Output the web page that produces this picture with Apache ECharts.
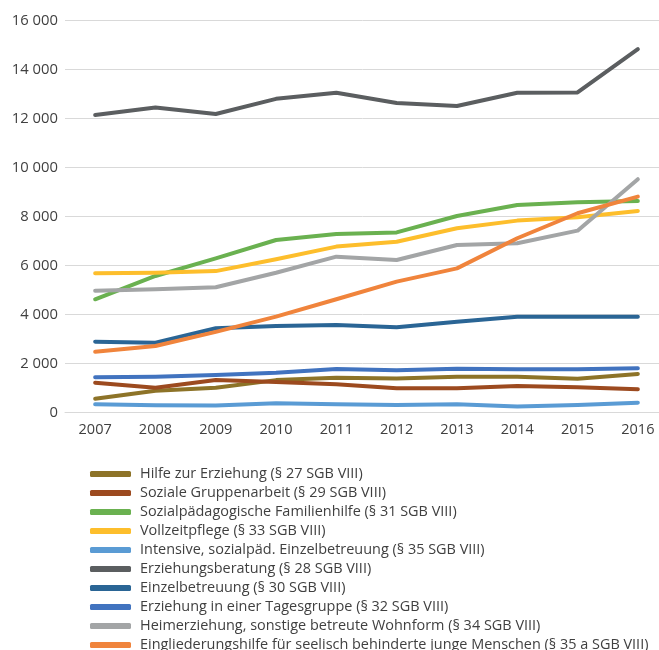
<!DOCTYPE html>
<html>
<head>
<meta charset="utf-8">
<script src="https://cdn.jsdelivr.net/npm/echarts@6/dist/echarts.min.js"></script>
<style>html,body{margin:0;padding:0;background:#fff;}#c{width:659px;height:650px;}</style>
</head>
<body>
<div id="c"></div>
<script>
const years = ['2007','2008','2009','2010','2011','2012','2013','2014','2015','2016'];
const names = [
  'Hilfe zur Erziehung (§ 27 SGB VIII)',
  'Soziale Gruppenarbeit (§ 29 SGB VIII)',
  'Sozialpädagogische Familienhilfe (§ 31 SGB VIII)',
  'Vollzeitpflege (§ 33 SGB VIII)',
  'Intensive, sozialpäd. Einzelbetreuung (§ 35 SGB VIII)',
  'Erziehungsberatung (§ 28 SGB VIII)',
  'Einzelbetreuung (§ 30 SGB VIII)',
  'Erziehung in einer Tagesgruppe (§ 32 SGB VIII)',
  'Heimerziehung, sonstige betreute Wohnform (§ 34 SGB VIII)',
  'Eingliederungshilfe für seelisch behinderte junge Menschen (§ 35 a SGB VIII)'
];
const hilfe27 =        [570, 900, 1020, 1330, 1430, 1400, 1470, 1470, 1390, 1580];
const gruppe29 =       [1225, 1020, 1335, 1250, 1160, 1000, 1000, 1090, 1040, 955];
const familie31 =      [4630, 5580, 6300, 7050, 7290, 7360, 8030, 8480, 8590, 8640];
const vollzeit33 =     [5690, 5710, 5780, 6260, 6780, 6980, 7530, 7840, 7980, 8230];
const intensiv35 =     [340, 300, 290, 385, 345, 315, 345, 250, 315, 410];
const beratung28 =     [12150, 12460, 12190, 12810, 13060, 12640, 12520, 13060, 13070, 14840];
const einzel30 =       [2900, 2860, 3445, 3540, 3580, 3490, 3710, 3920, 3920, 3920];
const tages32 =        [1445, 1470, 1540, 1630, 1785, 1730, 1795, 1770, 1770, 1810];
const heim34 =         [4980, 5040, 5120, 5710, 6370, 6230, 6845, 6915, 7430, 9530];
const eingl35a =       [2490, 2720, 3300, 3920, 4630, 5350, 5890, 7120, 8140, 8820];
const values = [hilfe27, gruppe29, familie31, vollzeit33, intensiv35, beratung28, einzel30, tages32, heim34, eingl35a];
const colors = ['#8d7328','#9c4a1f','#6ab150','#fdbe2c','#5a9bd4','#5b5e60','#2a6595','#4173bf','#a3a5a6','#f0843c'];

const font = '"Open Sans", "Noto Sans", sans-serif';
const chart = echarts.init(document.getElementById('c'), null, {renderer:'canvas'});
chart.setOption({
  animation: false,
  color: colors,
  grid: {left: 65, width: 603, top: 20.7, height: 392, containLabel: false, outerBoundsMode: 'none'},
  xAxis: {
    type: 'category', data: years, boundaryGap: true,
    axisLine: {show: true, lineStyle: {color: '#d9d9d9', width: 1}},
    axisTick: {show: false},
    axisLabel: {color: '#404040', fontSize: 14.5, fontFamily: font, margin: 10}
  },
  yAxis: {
    type: 'value', min: 0, max: 16000, interval: 2000,
    axisLine: {show: false}, axisTick: {show: false},
    splitLine: {lineStyle: {color: '#d9d9d9', width: 1}},
    axisLabel: {color: '#404040', fontSize: 14.8, fontFamily: font, margin: 7,
      formatter: v => v >= 1000 ? (Math.floor(v/1000) + ' ' + String(v%1000).padStart(3,'0')) : String(v)}
  },
  legend: {
    orient: 'vertical', left: 90, top: 467, height: 300, padding: 0,
    itemWidth: 41, itemHeight: 6, itemGap: 5,
    icon: 'roundRect',
    textStyle: {color: '#404040', fontSize: 14.45, fontFamily: font, lineHeight: 14, padding: [0,0,0,4]},
    data: names
  },
  series: names.map((n, i) => ({
    name: n, type: 'line', data: values[i],
    symbol: 'none', smooth: false,
    lineStyle: {width: 4, color: colors[i], cap: 'round', join: 'round'},
    itemStyle: {color: colors[i]}
  }))
});
</script>
</body>
</html>
